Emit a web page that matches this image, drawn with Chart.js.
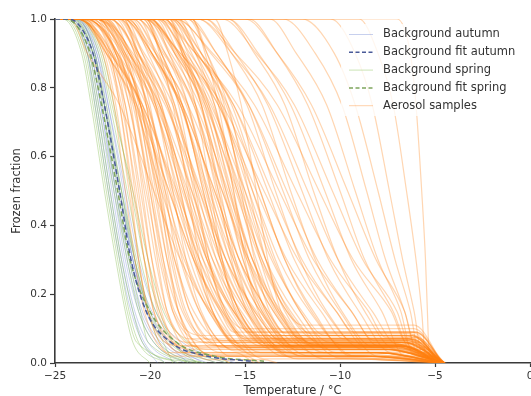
<!DOCTYPE html>
<html><head><meta charset="utf-8">
<script src="https://cdn.jsdelivr.net/npm/chart.js@4.4.0/dist/chart.umd.min.js"></script>
<style>html,body{margin:0;padding:0;background:#fff;overflow:hidden}canvas{display:block}</style>
</head><body>
<canvas id="c" width="531" height="396"></canvas>
<script>
// ---- data ----
const X_TICKS = [-25, -20, -15, -10, -5, 0];
const Y_TICKS = [0, 0.2, 0.4, 0.6, 0.8, 1.0];
const T_START = -25;
// background curves: temperature (°C) at which each curve reaches these frozen-fraction levels
const FF_LEVELS = [1, 0.9, 0.75, 0.5, 0.3, 0.15, 0.06, 0];
const FIT_LEVELS = [1, 0.98, 0.9, 0.75, 0.5, 0.3, 0.15, 0.06, 0.02, 0.005];
// aerosol curves: temperatures at these levels, then [plateau fraction, plateau start T, plateau end T, T at zero]
const AER_LEVELS = [1, 0.9, 0.75, 0.5, 0.3, 0.15];

const AUTUMN = [
  [-24.2,-23.2,-22.7,-22.0,-21.4,-20.8,-20.1,-18.6],
  [-24.0,-23.0,-22.5,-21.8,-21.2,-20.5,-19.6,-17.8],
  [-24.3,-23.3,-22.8,-22.1,-21.5,-20.9,-20.3,-19.2],
  [-23.9,-22.9,-22.4,-21.7,-21.0,-20.2,-19.2,-17.0],
  [-24.1,-23.1,-22.6,-21.9,-21.3,-20.6,-19.8,-18.2],
  [-23.8,-22.8,-22.3,-21.6,-20.9,-20.0,-18.9,-16.5],
  [-24.2,-23.1,-22.6,-21.8,-21.1,-20.4,-19.4,-17.5],
  [-23.7,-22.7,-22.2,-21.4,-20.8,-19.9,-18.6,-16.0],
  [-24.0,-22.9,-22.4,-21.6,-20.9,-20.1,-18.9,-17.2],
  [-23.9,-22.8,-22.2,-21.3,-20.6,-19.7,-18.3,-15.5],
  [-24.4,-23.3,-22.9,-22.2,-21.6,-21.0,-20.4,-19.6],
  [-23.8,-22.9,-22.4,-21.5,-20.9,-20.2,-19.1,-18.0]
];
const SPRING = [
  [-24.5,-23.5,-23.0,-22.3,-21.7,-21.2,-20.7,-17.5],
  [-24.3,-23.3,-22.8,-22.1,-21.5,-20.9,-20.4,-18.5],
  [-24.6,-23.6,-23.1,-22.4,-21.8,-21.3,-20.9,-20.0],
  [-24.0,-23.0,-22.5,-21.8,-21.1,-20.5,-20.1,-17.0],
  [-24.2,-23.2,-22.7,-21.9,-21.2,-20.6,-19.8,-18.0],
  [-23.9,-22.9,-22.4,-21.6,-20.8,-20.1,-19.5,-17.2],
  [-24.1,-23.0,-22.4,-21.5,-20.7,-20.0,-19.0,-16.5],
  [-23.8,-22.7,-22.1,-21.2,-20.5,-19.7,-18.6,-16.0],
  [-23.6,-22.5,-21.9,-21.0,-20.3,-19.5,-18.8,-17.5],
  [-24.4,-23.4,-22.9,-22.2,-21.6,-21.1,-20.6,-19.2],
  [-23.7,-22.6,-22.0,-20.9,-20.1,-19.3,-18.0,-15.8],
  [-24.0,-23.0,-22.3,-21.5,-20.8,-20.1,-19.3,-18.8]
];
const FIT_AUTUMN = [-24.3,-23.7,-23.0,-22.4,-21.6,-21.0,-20.2,-18.9,-17.0,-14.6];
const FIT_SPRING = [-24.5,-23.85,-23.15,-22.55,-21.7,-21.05,-20.0,-18.6,-16.6,-14.0];

const AEROSOL = [
  [-23.8,-22.5,-21.9,-21.3,-20.8,-20.3, .03,-19.0,-15.5,-14.5],
  [-23.9,-22.4,-21.8,-21.1,-20.6,-20.1, .05,-18.5,-7.2,-4.7],
  [-23.3,-22.1,-21.6,-21.0,-20.6,-20.1, .02,-18.8,-16.5,-15.8],
  [-23.9,-22.3,-21.6,-20.9,-20.3,-19.8, .05,-18.0,-6.8,-4.6],
  [-23.3,-22.0,-21.4,-20.8,-20.3,-19.8, .03,-18.3,-7.8,-4.8],
  [-23.9,-22.2,-21.5,-20.7,-20.1,-19.5, .06,-18.0,-6.5,-4.6],
  [-23.4,-21.9,-21.3,-20.6,-20.1,-19.6, .04,-17.8,-7.5,-4.5],
  [-23.9,-22.2,-21.3,-20.5,-19.9,-19.2, .07,-17.9,-6.2,-4.7],
  [-22.9,-21.6,-21.0,-20.4,-19.9,-19.4, .02,-17.5,-15.0,-14.2],
  [-23.5,-21.8,-21.1,-20.3,-19.7,-19.1, .045,-17.2,-8.0,-4.6],
  [-23.9,-22.0,-21.1,-20.2,-19.5,-18.8, .06,-17.0,-7.0,-4.8],
  [-22.9,-21.4,-20.8,-20.1,-19.6,-19.1, .025,-17.4,-8.5,-4.5],
  [-23.4,-21.7,-20.8,-20.0,-19.4,-18.7, .08,-17.3,-6.6,-4.6],
  [-22.9,-21.3,-20.6,-19.9,-19.3,-18.8, .04,-16.8,-7.4,-4.7],
  [-23.7,-21.7,-20.7,-19.8,-19.1,-18.3, .05,-16.5,-6.9,-4.5],
  [-22.9,-21.2,-20.5,-19.7,-19.1,-18.5, .02,-16.6,-9.0,-4.6],
  [-23.3,-21.4,-20.5,-19.6,-18.9,-18.2, .065,-16.4,-6.4,-4.8],
  [-22.3,-20.8,-20.2,-19.5,-19.0,-18.5, .01,-17.0,-14.0,-13.3],
  [-23.6,-21.5,-20.5,-19.5,-18.7,-17.9, .045,-16.0,-7.7,-4.6],
  [-22.9,-21.0,-20.2,-19.4,-18.8,-18.1, .03,-16.2,-8.2,-4.7],
  [-22.5,-21.5,-20.4,-19.3,-18.4,-17.4, .035,-15.5,-7.1,-4.6],
  [-23.0,-21.8,-20.5,-19.2,-18.1,-16.9, .05,-15.3,-6.7,-4.7],
  [-22.0,-21.1,-20.1,-19.1,-18.3,-17.4, .02,-15.8,-8.8,-4.5],
  [-23.5,-22.1,-20.5,-19.0,-17.7,-16.3, .07,-15.0,-6.3,-4.6],
  [-22.4,-21.3,-20.1,-18.9,-17.9,-16.8, .04,-15.0,-7.6,-4.8],
  [-23.0,-21.7,-20.2,-18.8,-17.6,-16.3, .09,-15.6,-6.0,-4.6],
  [-23.5,-22.0,-20.4,-18.7,-17.4,-15.9, .05,-14.2,-7.3,-4.5],
  [-21.8,-20.8,-19.7,-18.6,-17.7,-16.7, .06,-15.5,-6.6,-4.7],
  [-22.3,-21.1,-19.8,-18.5,-17.4,-16.2, .012,-14.0,-9.5,-4.6],
  [-21.3,-20.4,-19.4,-18.4,-17.6,-16.7, .055,-15.2,-7.0,-4.8],
  [-22.8,-21.4,-19.8,-18.3,-17.0,-15.6, .08,-14.6,-6.2,-4.5],
  [-21.7,-20.6,-19.4,-18.2,-17.2,-16.1, .03,-14.2,-8.0,-4.6],
  [-22.3,-21.0,-19.5,-18.1,-16.9,-15.6, .05,-13.8,-6.9,-4.7],
  [-22.8,-21.3,-19.7,-18.0,-16.7,-15.2, .02,-13.0,-8.6,-4.6],
  [-21.1,-20.1,-19.0,-17.9,-17.0,-16.0, .07,-14.8,-6.4,-4.5],
  [-21.6,-20.4,-19.1,-17.8,-16.7,-15.5, .04,-13.6,-7.5,-4.8],
  [-20.6,-19.7,-18.7,-17.7,-16.9,-16.0, .10,-15.0,-6.1,-4.6],
  [-22.1,-20.7,-19.1,-17.6,-16.3,-14.9, .05,-13.2,-7.2,-4.7],
  [-21.0,-19.9,-18.7,-17.5,-16.5,-15.4, .06,-13.8,-6.6,-4.5],
  [-21.6,-20.3,-18.8,-17.4,-16.2,-14.9, .015,-12.5,-9.2,-4.6],
  [-22.1,-20.6,-19.0,-17.3,-16.0,-14.5, .055,-12.8,-7.0,-4.8],
  [-20.4,-19.4,-18.3,-17.2,-16.3,-15.3, .08,-14.2,-6.3,-4.6],
  [-20.9,-19.7,-18.4,-17.1,-16.0,-14.8, .03,-12.6,-8.1,-4.5],
  [-19.9,-19.0,-18.0,-17.0,-16.2,-15.3, .05,-13.5,-6.8,-4.7],
  [-21.4,-20.0,-18.4,-16.9,-15.6,-14.2, .02,-12.0,-8.7,-4.6],
  [-20.3,-19.2,-18.0,-16.8,-15.8,-14.7, .07,-13.4,-6.4,-4.8],
  [-20.9,-19.6,-18.1,-16.7,-15.5,-14.2, .04,-12.3,-7.6,-4.5],
  [-21.4,-19.9,-18.3,-16.6,-15.3,-13.8, .09,-13.0,-6.0,-4.6],
  [-19.7,-18.7,-17.6,-16.5,-15.6,-14.6, .05,-12.8,-7.3,-4.7],
  [-20.2,-19.0,-17.7,-16.4,-15.3,-14.1, .06,-12.5,-6.7,-4.5],
  [-19.2,-18.3,-17.3,-16.3,-15.5,-14.6, .012,-12.2,-9.8,-4.6],
  [-20.7,-19.3,-17.7,-16.2,-14.9,-13.5, .055,-11.8,-7.1,-4.8],
  [-19.6,-18.5,-17.3,-16.1,-15.1,-14.0, .08,-13.0,-6.3,-4.6],
  [-20.2,-18.9,-17.4,-16.0,-14.8,-13.5, .03,-11.4,-8.2,-4.5],
  [-20.7,-19.2,-17.6,-15.9,-14.6,-13.1, .05,-11.2,-6.9,-4.7],
  [-19.0,-18.0,-16.9,-15.8,-14.9,-13.9, .02,-11.6,-8.9,-4.6],
  [-19.5,-18.3,-17.0,-15.7,-14.6,-13.4, .07,-12.0,-6.5,-4.8],
  [-18.5,-17.6,-16.6,-15.6,-14.8,-13.9, .04,-12.0,-7.7,-4.5],
  [-20.0,-18.6,-17.0,-15.5,-14.2,-12.8, .11,-12.0,-6.1,-4.6],
  [-18.9,-17.8,-16.6,-15.4,-14.4,-13.3, .05,-11.3,-7.4,-4.7],
  [-19.5,-18.2,-16.7,-15.3,-14.1,-12.8, .06,-11.0,-6.8,-4.5],
  [-20.0,-18.5,-16.9,-15.2,-13.9,-12.4, .015,-10.0,-9.0,-4.6],
  [-18.3,-17.3,-16.2,-15.1,-14.2,-13.2, .055,-11.3,-7.2,-4.8],
  [-18.8,-17.6,-16.3,-15.0,-13.9,-12.7, .085,-11.5,-6.4,-4.6],
  [-22.6,-21.8,-20.9,-20.0,-19.3,-18.5, .02,-16.8,-8.4,-4.6],
  [-24.2,-23.3,-21.6,-19.8,-18.4,-16.8, .045,-14.8,-7.0,-4.7],
  [-22.8,-21.8,-20.7,-19.6,-18.7,-17.7, .065,-16.2,-6.5,-4.5],
  [-23.6,-22.3,-20.8,-19.4,-18.2,-16.9, .03,-14.9,-7.9,-4.6],
  [-21.4,-20.7,-20.0,-19.2,-18.6,-17.9, .05,-16.4,-6.8,-4.8],
  [-23.8,-22.3,-20.7,-19.0,-17.7,-16.2, .075,-15.0,-6.2,-4.6],
  [-21.4,-20.6,-19.7,-18.8,-18.1,-17.3, .04,-15.6,-7.4,-4.5],
  [-23.7,-22.1,-20.4,-18.6,-17.2,-15.6, .055,-13.8,-6.9,-4.7],
  [-21.6,-20.6,-19.5,-18.4,-17.5,-16.5, .02,-14.4,-8.8,-4.6],
  [-22.4,-21.1,-19.6,-18.2,-17.0,-15.7, .09,-14.8,-6.2,-4.8],
  [-20.2,-19.5,-18.8,-18.0,-17.4,-16.7, .045,-15.0,-7.3,-4.5],
  [-22.6,-21.1,-19.5,-17.8,-16.5,-15.0, .03,-12.8,-8.0,-4.6],
  [-20.2,-19.4,-18.5,-17.6,-16.9,-16.1, .06,-14.5,-6.6,-4.7],
  [-22.5,-20.9,-19.2,-17.4,-16.0,-14.4, .04,-12.4,-7.6,-4.5],
  [-20.4,-19.4,-18.3,-17.2,-16.3,-15.3, .07,-14.0,-6.4,-4.6],
  [-21.2,-19.9,-18.4,-17.0,-15.8,-14.5, .02,-12.0,-8.6,-4.8],
  [-19.0,-18.3,-17.6,-16.8,-16.2,-15.5, .05,-13.8,-6.9,-4.6],
  [-21.4,-19.9,-18.3,-16.6,-15.3,-13.8, .085,-12.8,-6.3,-4.5],
  [-19.0,-18.2,-17.3,-16.4,-15.7,-14.9, .03,-12.8,-8.1,-4.7],
  [-21.3,-19.7,-18.0,-16.2,-14.8,-13.2, .055,-11.4,-7.0,-4.6],
  [-19.2,-18.2,-17.1,-16.0,-15.1,-14.1, .045,-12.2,-7.4,-4.5],
  [-20.0,-18.7,-17.2,-15.8,-14.6,-13.3, .012,-10.8,-9.4,-4.6],
  [-17.8,-17.1,-16.4,-15.6,-15.0,-14.3, .065,-13.0,-6.5,-4.8],
  [-20.2,-18.7,-17.1,-15.4,-14.1,-12.6, .04,-10.6,-7.7,-4.6],
  [-17.8,-17.0,-16.1,-15.2,-14.5,-13.7, .05,-11.8,-6.8,-4.5],
  [-20.1,-18.5,-16.8,-15.0,-13.6,-12.0, .08,-10.8,-6.2,-4.7],
  [-18.0,-17.0,-15.9,-14.8,-13.9,-12.9, .03,-10.8,-8.0,-4.6],
  [-18.8,-17.5,-16.0,-14.6,-13.4,-12.1, .06,-10.5,-6.7,-4.5],
  [-16.6,-15.9,-15.2,-14.4,-13.8,-13.1, .045,-11.0,-7.3,-4.8],
  [-19.0,-17.5,-15.9,-14.2,-12.9,-11.4, .02,-9.4,-8.0,-4.6],
  [-19.3,-17.9,-16.3,-14.8,-13.5,-12.1, .03,-10.2,-7.5,-4.6],
  [-19.7,-18.1,-16.4,-14.6,-13.2,-11.6, .05,-9.8,-6.8,-4.7],
  [-20.2,-18.4,-16.4,-14.4,-12.8,-11.0, .07,-9.8,-6.3,-4.5],
  [-18.7,-17.3,-15.7,-14.2,-12.9,-11.5, .02,-9.2,-7.8,-4.6],
  [-20.4,-18.4,-16.2,-14.0,-12.2,-10.2, .045,-8.6,-7.0,-4.8],
  [-18.9,-17.3,-15.6,-13.8,-12.4,-10.8, .06,-9.2,-6.5,-4.6],
  [-19.4,-17.6,-15.6,-13.6,-12.0,-10.2, .09,-9.3,-6.1,-4.5],
  [-17.9,-16.5,-14.9,-13.4,-12.1,-10.7, .04,-8.8,-7.2,-4.7],
  [-19.6,-17.6,-15.4,-13.2,-11.4,-9.4, .05,-8.0,-6.6,-4.6],
  [-18.1,-16.5,-14.8,-13.0,-11.6,-10.0, .02,-8.0,-7.0,-4.5],
  [-18.6,-16.8,-14.8,-12.8,-11.2,-9.4, .065,-8.2,-6.3,-4.8],
  [-17.1,-15.7,-14.1,-12.6,-11.3,-9.9, .045,-8.2,-6.8,-4.6],
  [-18.7,-16.7,-14.5,-12.3,-10.5,-8.5, .075,-7.6,-6.0,-4.5],
  [-17.1,-15.5,-13.8,-12.0,-10.6,-9.0, .03,-7.3,-6.4,-4.7],
  [-17.5,-15.7,-13.7,-11.7,-10.1,-8.3, .055,-7.0,-6.0,-4.6],
  [-15.9,-14.5,-12.9,-11.4,-10.1,-8.7, .04,-7.1,-6.2,-4.5],
  [-17.5,-15.5,-13.3,-11.1,-9.3,-7.3, .06,-6.5,-5.8,-4.7],
  [-15.9,-14.3,-12.6,-10.8,-9.4,-7.8, .02,-6.6,-6.0,-4.6],
  [-16.2,-14.4,-12.4,-10.4,-8.8,-7.0, .05,-6.3,-5.7,-4.5],
  [-14.8,-13.3,-11.7,-10.0,-8.7,-7.2, .04,-6.3,-5.8,-4.6],
  [-15.0,-13.3,-11.5,-9.6,-8.1,-6.6, .045,-6.0,-5.6,-4.7],
  [-13.7,-12.3,-10.7,-9.2,-8.0,-6.8, .03,-6.2,-5.7,-4.5],
  [-13.0,-11.3,-9.9,-8.6,-7.6,-6.6, .04,-6.0,-5.4,-4.6],
  [-12.0,-10.3,-9.2,-8.0,-7.1,-6.3, .02,-5.8,-5.3,-4.5],
  [-10.5,-9.2,-8.3,-7.4,-6.7,-6.1, .03,-5.7,-5.3,-4.5],
  [-9.0,-8.0,-7.2,-6.5,-6.0,-5.7, .02,-5.5,-5.2,-4.4],
  [-7.0,-6.3,-6.0,-5.7,-5.5,-5.4, .02,-5.3,-5.1,-4.5]
];

const LEGEND_LABELS = ['Background autumn', 'Background fit autumn', 'Background spring', 'Background fit spring', 'Aerosol samples'];

// ---- styles ----
const C_AUT = 'rgba(95,120,205,0.32)';
const C_AUT_FIT = '#4a5a98';
const C_SPR = 'rgba(125,185,70,0.38)';
const C_SPR_FIT = '#7ea55c';
const C_AER = 'rgba(255,127,14,0.32)';
const FONT = '"DejaVu Sans", "Liberation Sans", sans-serif';
const TXT = '#333333';

function bgPoints(row, levels) {
  const pts = [{x: T_START, y: levels[0]}];
  row.forEach((t, i) => pts.push({x: t, y: levels[i]}));
  return pts;
}
function aerPoints(row) {
  const pts = [{x: T_START, y: AER_LEVELS[0]}];
  AER_LEVELS.forEach((f, i) => pts.push({x: row[i], y: f}));
  const n = AER_LEVELS.length;
  const fLow = row[n], tS = row[n + 1], tE = row[n + 2], t0 = row[n + 3];
  pts.push({x: tS, y: fLow}, {x: tE, y: fLow}, {x: t0, y: 0});
  return pts;
}
function lineSet(pts, color, width, dash, label, order) {
  return {
    label: label, data: pts, borderColor: color, borderWidth: width,
    borderDash: dash || [], pointRadius: 0, fill: false, cubicInterpolationMode: 'monotone',
    order: order
  };
}

const datasets = [];
datasets.push(lineSet(bgPoints(FIT_AUTUMN, FIT_LEVELS), C_AUT_FIT, 1.5, [5, 3], LEGEND_LABELS[1], 0));
datasets.push(lineSet(bgPoints(FIT_SPRING, FIT_LEVELS), C_SPR_FIT, 1.5, [5, 3], LEGEND_LABELS[3], 0));
AEROSOL.forEach(r => datasets.push(lineSet(aerPoints(r), C_AER, 1.2, null, LEGEND_LABELS[4], 1)));
SPRING.forEach(r => datasets.push(lineSet(bgPoints(r, FF_LEVELS), C_SPR, 1, null, LEGEND_LABELS[2], 2)));
AUTUMN.forEach(r => datasets.push(lineSet(bgPoints(r, FF_LEVELS), C_AUT, 1, null, LEGEND_LABELS[0], 3)));

const LEGEND_STYLE = [
  {color: 'rgba(95,120,205,0.35)', width: 1, dash: []},
  {color: C_AUT_FIT, width: 1.5, dash: [4, 2.5]},
  {color: 'rgba(125,185,70,0.4)', width: 1, dash: []},
  {color: C_SPR_FIT, width: 1.5, dash: [4, 2.5]},
  {color: 'rgba(255,127,14,0.35)', width: 1, dash: []}
];

const legendPlugin = {
  id: 'customLegend',
  afterDatasetsDraw(chart) {
    const ctx = chart.ctx;
    ctx.save();
    ctx.fillStyle = 'rgba(255,255,255,0.8)';
    ctx.fillRect(341, 24, 187, 92);
    ctx.font = '11.5px ' + FONT;
    ctx.textBaseline = 'middle';
    LEGEND_LABELS.forEach((lab, i) => {
      const y = 34.5 + i * 17.8;
      const s = LEGEND_STYLE[i];
      ctx.strokeStyle = s.color; ctx.lineWidth = s.width; ctx.setLineDash(s.dash);
      ctx.beginPath(); ctx.moveTo(349, y); ctx.lineTo(373, y); ctx.stroke();
      ctx.setLineDash([]);
      ctx.fillStyle = TXT;
      ctx.fillText(lab, 383, y);
    });
    ctx.restore();
  }
};

const minus = v => (v < 0 ? '\u2212' + Math.abs(v) : String(v));

new Chart(document.getElementById('c'), {
  type: 'line',
  data: {datasets: datasets},
  plugins: [legendPlugin],
  options: {
    responsive: false,
    animation: false,
    events: [],
    layout: {padding: {top: 19, right: 1, left: 0, bottom: 0}},
    plugins: {legend: {display: false}, tooltip: {enabled: false}},
    scales: {
      x: {
        type: 'linear', min: -25, max: 0,
        afterBuildTicks: s => { s.ticks = X_TICKS.map(v => ({value: v})); },
        afterFit: s => { s.height = 33; s.paddingLeft = 0; s.paddingRight = 0; },
        ticks: {callback: v => minus(v), color: TXT, font: {family: FONT, size: 10.5}, padding: 3, maxRotation: 0, autoSkip: false},
        grid: {drawOnChartArea: false, drawTicks: true, tickLength: 4, tickColor: '#3a3a3a', tickWidth: 1.2},
        border: {display: true, color: '#3a3a3a', width: 1.6},
        title: {display: true, text: 'Temperature / °C', color: TXT, font: {family: FONT, size: 11.5, lineHeight: 0.9}, padding: 0}
      },
      y: {
        type: 'linear', min: 0, max: 1,
        afterBuildTicks: s => { s.ticks = Y_TICKS.map(v => ({value: v})); },
        afterFit: s => { s.width = 55; s.paddingTop = 0; s.paddingBottom = 0; },
        ticks: {callback: v => v.toFixed(1), color: TXT, font: {family: FONT, size: 10.5}, padding: 3},
        grid: {drawOnChartArea: false, drawTicks: true, tickLength: 5, tickColor: '#3a3a3a', tickWidth: 1.2},
        border: {display: true, color: '#3a3a3a', width: 1.6},
        title: {display: true, text: 'Frozen fraction', color: TXT, font: {family: FONT, size: 11.5, lineHeight: 0.9}, padding: {top: 12, bottom: 0}}
      }
    }
  }
});
</script>
</body></html>
